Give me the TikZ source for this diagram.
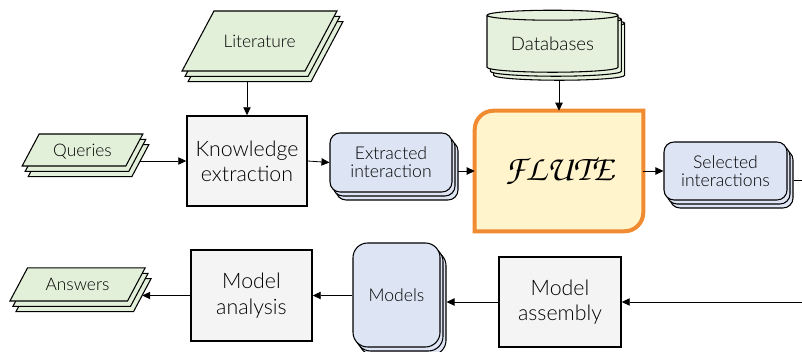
\documentclass[tikz,border=0pt]{standalone}
\usepackage{fontspec}
\setmainfont{Lato Light}
\usetikzlibrary{shapes.geometric,shadows,arrows.meta}
\definecolor{datagreen}{HTML}{E2EFD9}
\definecolor{dbgreen}{HTML}{E6F1DD}
\definecolor{itemblue}{HTML}{DDE5F4}
\definecolor{procgray}{HTML}{F4F4F4}
\definecolor{flutefill}{HTML}{FFF4CC}
\definecolor{fluteline}{HTML}{F18B31}
\begin{document}
\begin{tikzpicture}[x=0.75pt,y=-0.75pt,
  datastack/.style={trapezium, trapezium left angle=62, trapezium right angle=118,
    inner sep=0pt, align=center, draw, line width=0.8pt, fill=datagreen,
    font=\fontsize{13}{14}\selectfont,
    double copy shadow={shadow xshift=2.25pt, shadow yshift=-4pt}},
  process/.style={rectangle, draw, line width=1.1pt, fill=procgray, inner sep=0pt,
    align=center, font=\fontsize{16}{19}\selectfont},
  itemstack/.style={rectangle, rounded corners=7.5pt, draw, line width=0.8pt, fill=itemblue,
    inner sep=0pt, align=center, font=\fontsize{13.2}{13.5}\selectfont,
    double copy shadow={shadow xshift=2.25pt, shadow yshift=-3pt}},
  conn/.style={-{Triangle[length=6pt,width=5.5pt]}, line width=0.6pt}]
\useasboundingbox (0,0) rectangle (802,352);
% inputs
\node[datastack, text width=68.3pt, text height=27.2pt, text depth=17.8pt] (lit) at (259.5,41){Literature};
\node[datastack, text width=65pt, text height=16.7pt, text depth=7.3pt] (queries) at (82.5,150){Queries};
\node[cylinder, shape border rotate=90, aspect=0.12, draw, line width=0.8pt, fill=dbgreen,
  minimum width=98.25pt, minimum height=46.5pt, inner sep=0pt, font=\fontsize{14}{15}\selectfont,
  double copy shadow={shadow xshift=2.5pt, shadow yshift=-3pt}] (db) at (552.5,44){Databases};
% top row
\node[process, minimum width=90pt, minimum height=67.5pt] (know) at (247,161){Knowledge\\extraction};
\node[itemstack, minimum width=91.5pt, minimum height=44.25pt] (extracted) at (391,162.5){Extracted\\interaction};
\node[minimum width=126pt, minimum height=90pt, inner sep=0pt] (flute) at (559,171){};
\path[fill=flutefill, draw=fluteline, line width=3pt]
  (flute.north east) [rounded corners=14pt] -- (flute.south east) [sharp corners] -- (flute.south west)
  [rounded corners=14pt] -- (flute.north west) [sharp corners] -- cycle;
\node[font=\fontencoding{T1}\fontfamily{pzc}\fontshape{it}\fontsize{27}{29}\selectfont] (flutetext) at (flute.center){FLUTE};
\node[itemstack, minimum width=92.25pt, minimum height=43.5pt] (selected) at (725.5,171){Selected\\interactions};
% bottom row
\node[process, minimum width=91.5pt, minimum height=67.5pt] (assembly) at (560,302){Model\\assembly};
\node[itemstack, rounded corners=11pt, minimum width=65.25pt, minimum height=78pt] (models) at (396.5,295){Models};
\node[process, minimum width=90.75pt, minimum height=68.25pt] (analysis) at (251.5,295.5){Model\\analysis};
\node[datastack, text width=75pt, text height=17.1pt, text depth=7.7pt] (answers) at (77.5,284.5){Answers};
\coordinate (turn) at (830,180);
% connectors
\draw[conn] ([yshift=-7pt]lit.south -| know.north) -- (know.north);
\draw[conn] ([xshift=4pt]queries.east |- know.west) -- (know.west);
\draw[conn] (know.east) -- (extracted.west);
\draw[conn] ([xshift=4pt]extracted.east |- flute.west) -- (flute.west);
\draw[conn] ([yshift=-6pt]db.south -| flute.north) -- (flute.north);
\draw[conn] (flute.east) -- (selected.west);
\draw[conn] ([xshift=4.5pt]selected.east |- turn) -- (turn) |- (assembly.east);
\draw[conn] (assembly.west) -- ([xshift=4.5pt]models.east |- assembly.west);
\draw[conn] (models.west |- analysis.east) -- (analysis.east);
\draw[conn] (analysis.west) -- ([xshift=4pt]answers.east |- analysis.west);
\end{tikzpicture}
\end{document}
